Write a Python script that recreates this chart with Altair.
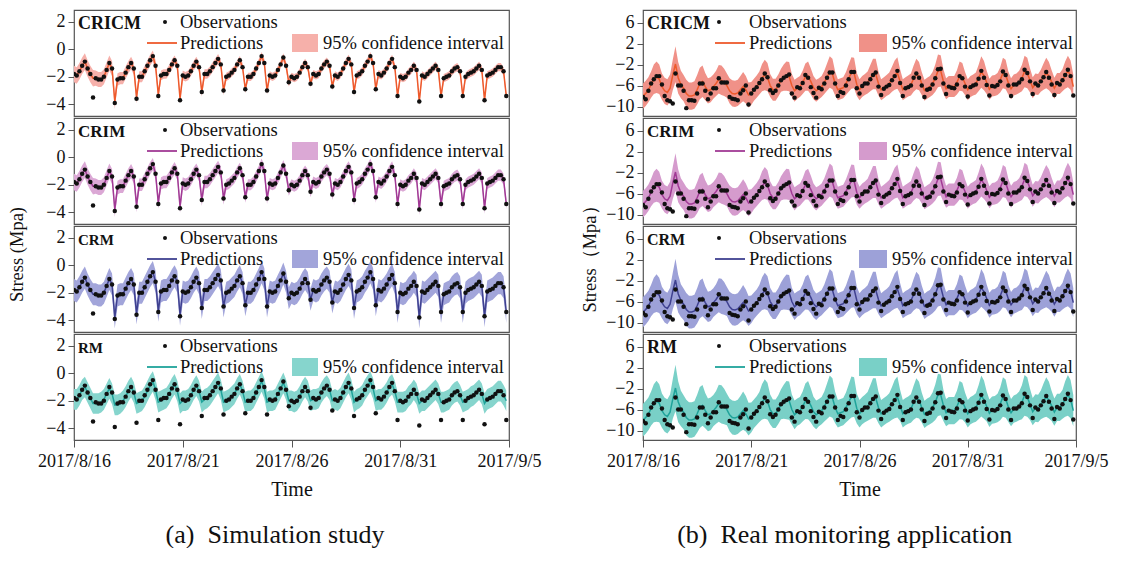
import altair as alt
import pandas as pd

FONT = "Liberation Serif"
PER_DAY = 8
N_DAYS = 20

models = ["CRICM", "CRIM", "CRM", "RM"]
label_sizes_left = [18, 17, 15, 15]
label_sizes_right = [18, 17, 16, 18]
line_colors = ["#EE5A2C", "#A13A95", "#3F4190", "#1FA39A"]
fill_left = ["#F6B0AA", "#DBA8D5", "#A2A5DA", "#86D5CD"]
fill_right = ["#F09188", "#D59BCD", "#9DA1D8", "#79D0C7"]

x_tick_values = [0, 5, 10, 15, 20]
x_tick_labels = ["2017/8/16", "2017/8/21", "2017/8/26", "2017/8/31", "2017/9/5"]
y_ticks_left = [2, 0, -2, -4]
y_ticks_right = [6, 2, -2, -6, -10]
y_domain_left = [-4.85, 2.85]
y_domain_right = [-11.8, 8.4]

# ---- (a) simulation study, 3-hourly ----
obs_left = [
    -1.8, -1.9, -1.6, -1.2, -0.9, -1.4, -1.8, -3.5,
    -2.1, -2.2, -2.2, -2.0, -1.5, -1.0, -1.4, -3.9,
    -2.2, -2.1, -2.1, -1.7, -1.3, -1.0, -1.4, -3.6,
    -2.0, -2.0, -1.6, -1.2, -0.8, -0.5, -1.2, -3.4,
    -1.9, -1.8, -1.8, -1.5, -1.1, -0.8, -1.2, -3.7,
    -1.9, -2.0, -1.9, -1.6, -1.2, -0.9, -1.3, -3.1,
    -1.8, -1.8, -1.6, -1.3, -1.0, -0.7, -1.1, -3.0,
    -2.0, -1.9, -1.7, -1.5, -1.1, -0.8, -1.3, -2.9,
    -2.0, -2.0, -1.8, -1.4, -1.0, -0.5, -1.0, -3.0,
    -1.9, -2.0, -1.9, -1.5, -1.1, -0.6, -1.2, -2.4,
    -2.0, -2.1, -2.0, -1.7, -1.3, -1.0, -1.3, -2.5,
    -1.8, -1.9, -1.8, -1.4, -1.1, -0.9, -1.2, -2.7,
    -1.9, -2.0, -1.8, -1.4, -1.0, -0.7, -1.1, -3.1,
    -1.9, -1.8, -1.6, -1.2, -0.9, -0.5, -1.0, -2.9,
    -1.8, -1.9, -1.7, -1.4, -1.0, -0.7, -1.3, -3.4,
    -2.0, -2.1, -2.0, -1.7, -1.5, -1.2, -1.5, -3.8,
    -1.9, -2.0, -1.8, -1.6, -1.4, -1.2, -1.5, -3.4,
    -2.1, -2.0, -1.9, -1.6, -1.4, -1.3, -1.6, -3.4,
    -2.0, -1.8, -1.7, -1.6, -1.4, -1.2, -1.5, -3.7,
    -1.9, -1.8, -1.7, -1.5, -1.3, -1.3, -1.6, -3.4,
]

pred_left_fit = [
    -1.8, -1.9, -1.6, -1.2, -0.9, -1.4, -1.8, -2.1,
    -2.1, -2.2, -2.2, -2.0, -1.5, -1.0, -1.4, -3.8,
    -2.2, -2.1, -2.1, -1.7, -1.3, -1.0, -1.4, -3.5,
    -2.0, -2.0, -1.6, -1.2, -0.8, -0.5, -1.2, -3.3,
    -1.9, -1.8, -1.8, -1.5, -1.1, -0.8, -1.2, -3.6,
    -1.9, -2.0, -1.9, -1.6, -1.2, -0.9, -1.3, -3.1,
    -1.8, -1.8, -1.6, -1.3, -1.0, -0.7, -1.1, -3.0,
    -2.0, -1.9, -1.7, -1.5, -1.1, -0.8, -1.3, -2.9,
    -2.0, -2.0, -1.8, -1.4, -1.0, -0.5, -1.0, -3.0,
    -1.9, -2.0, -1.9, -1.5, -1.1, -0.6, -1.2, -2.4,
    -2.0, -2.1, -2.0, -1.7, -1.3, -1.0, -1.3, -2.5,
    -1.8, -1.9, -1.8, -1.4, -1.1, -0.9, -1.2, -2.7,
    -1.9, -2.0, -1.8, -1.4, -1.0, -0.7, -1.1, -3.1,
    -1.9, -1.8, -1.6, -1.2, -0.9, -0.5, -1.0, -2.9,
    -1.8, -1.9, -1.7, -1.4, -1.0, -0.7, -1.3, -3.4,
    -2.0, -2.1, -2.0, -1.7, -1.5, -1.2, -1.5, -3.8,
    -1.9, -2.0, -1.8, -1.6, -1.4, -1.2, -1.5, -3.4,
    -2.1, -2.0, -1.9, -1.6, -1.4, -1.3, -1.6, -3.4,
    -2.0, -1.8, -1.7, -1.6, -1.4, -1.2, -1.5, -3.7,
    -1.9, -1.8, -1.7, -1.5, -1.3, -1.3, -1.6, -3.4,
]

pred_left_rm = [
    -1.9, -1.9, -1.6, -1.2, -1.0, -1.4, -1.8, -2.2,
    -2.2, -2.2, -2.1, -1.9, -1.5, -1.1, -1.5, -2.3,
    -2.3, -2.2, -2.0, -1.7, -1.3, -1.0, -1.4, -2.2,
    -2.1, -2.0, -1.7, -1.3, -0.9, -0.6, -1.2, -2.1,
    -2.0, -1.9, -1.8, -1.5, -1.1, -0.8, -1.3, -2.2,
    -2.0, -2.0, -1.9, -1.6, -1.2, -0.9, -1.3, -2.1,
    -1.9, -1.8, -1.6, -1.3, -1.0, -0.7, -1.2, -2.1,
    -2.0, -1.9, -1.7, -1.5, -1.1, -0.8, -1.3, -2.1,
    -2.0, -2.0, -1.8, -1.4, -1.0, -0.6, -1.1, -2.1,
    -2.0, -2.0, -1.9, -1.5, -1.1, -0.7, -1.2, -2.0,
    -2.0, -2.1, -2.0, -1.7, -1.3, -1.0, -1.3, -2.0,
    -1.9, -1.9, -1.8, -1.4, -1.1, -0.9, -1.2, -2.0,
    -1.9, -2.0, -1.8, -1.4, -1.0, -0.7, -1.2, -2.1,
    -1.9, -1.8, -1.6, -1.2, -0.9, -0.6, -1.1, -2.0,
    -1.9, -1.9, -1.7, -1.4, -1.0, -0.8, -1.3, -2.1,
    -2.1, -2.1, -2.0, -1.7, -1.5, -1.2, -1.5, -2.2,
    -2.0, -2.0, -1.8, -1.6, -1.4, -1.2, -1.5, -2.1,
    -2.1, -2.0, -1.9, -1.6, -1.4, -1.3, -1.6, -2.1,
    -2.0, -1.9, -1.7, -1.6, -1.4, -1.2, -1.5, -2.2,
    -1.9, -1.8, -1.7, -1.5, -1.3, -1.3, -1.6, -2.0,
]

# daily half-width of the 95% band, per model
hw_left_cricm = [0.6, 0.55, 0.45, 0.4, 0.35, 0.35, 0.35, 0.3, 0.3, 0.3,
                 0.3, 0.3, 0.3, 0.3, 0.3, 0.3, 0.3, 0.3, 0.3, 0.3]
hw_left_crim = [0.6, 0.55, 0.5, 0.45, 0.45, 0.45, 0.45, 0.4, 0.4, 0.4,
                0.4, 0.4, 0.4, 0.4, 0.4, 0.4, 0.4, 0.4, 0.4, 0.4]
hw_left_crm = [0.8, 0.8, 0.8, 0.8, 0.8, 0.8, 0.8, 0.8, 0.8, 0.8,
               0.8, 0.8, 0.8, 0.8, 0.8, 0.8, 0.8, 0.8, 0.8, 0.8]
hw_left_rm = [0.75, 0.75, 0.75, 0.75, 0.75, 0.75, 0.75, 0.75, 0.75, 0.75,
              0.75, 0.75, 0.75, 0.75, 0.75, 0.75, 0.75, 0.75, 0.75, 0.75]

# ---- (b) real monitoring application, 3-hourly ----
obs_right = [
    -8.2, -8.6, -7.0, -5.6, -4.8, -4.2, -4.2, -5.8,
    -8.0, -8.8, -9.0, -9.4, -3.7, -6.0, -6.0, -7.0,
    -10.3, -8.8, -8.8, -8.9, -7.5, -5.6, -5.6, -7.0,
    -8.6, -7.5, -6.5, -6.5, -4.6, -5.4, -5.4, -5.4,
    -8.2, -8.5, -8.6, -8.8, -7.5, -6.9, -6.0, -9.6,
    -7.5, -6.8, -6.3, -5.5, -4.8, -3.7, -4.4, -6.9,
    -7.4, -7.0, -6.0, -5.0, -4.5, -4.2, -3.9, -7.5,
    -8.3, -6.3, -6.5, -5.5, -4.0, -4.5, -6.3, -7.4,
    -8.3, -6.4, -6.7, -5.6, -4.5, -3.5, -3.5, -5.6,
    -8.0, -7.2, -7.4, -6.0, -4.8, -3.4, -3.4, -6.5,
    -7.5, -6.1, -5.6, -5.6, -4.8, -4.0, -3.5, -6.2,
    -7.8, -6.6, -6.2, -5.9, -5.0, -4.2, -3.2, -5.5,
    -8.0, -6.5, -6.3, -6.0, -4.5, -3.7, -4.5, -6.0,
    -8.2, -6.8, -6.6, -5.8, -4.6, -2.9, -2.8, -5.6,
    -7.6, -6.2, -6.4, -6.5, -5.8, -4.2, -4.6, -6.2,
    -8.1, -6.3, -6.0, -5.8, -4.7, -3.2, -4.5, -5.9,
    -7.9, -6.1, -6.2, -5.9, -5.2, -3.3, -4.0, -6.0,
    -8.0, -5.8, -5.8, -5.4, -4.8, -3.0, -3.6, -5.2,
    -7.6, -5.6, -6.0, -5.2, -4.4, -3.4, -4.5, -5.8,
    -7.8, -5.5, -5.8, -5.0, -4.0, -3.0, -4.2, -7.9,
]

pred_right = [
    -8.0, -7.5, -6.8, -5.8, -4.8, -4.4, -4.8, -6.2,
    -7.0, -7.3, -6.5, -4.0, -1.9, -4.5, -5.8, -6.5,
    -7.5, -8.0, -8.0, -7.8, -6.8, -5.6, -5.2, -6.2,
    -7.0, -6.8, -6.2, -5.6, -4.8, -5.0, -5.4, -6.0,
    -7.0, -7.5, -7.6, -7.4, -6.8, -6.2, -6.8, -7.8,
    -7.5, -6.8, -6.2, -5.5, -4.5, -4.0, -4.4, -6.0,
    -6.8, -6.8, -6.0, -5.0, -4.5, -4.2, -4.3, -6.0,
    -7.0, -6.5, -6.2, -5.4, -4.4, -4.2, -5.2, -6.4,
    -7.0, -6.6, -6.2, -5.4, -4.4, -3.4, -3.8, -5.6,
    -6.8, -6.6, -6.4, -5.6, -4.6, -3.6, -3.6, -5.8,
    -6.8, -6.2, -5.8, -5.4, -4.6, -3.8, -3.8, -5.6,
    -6.8, -6.4, -6.0, -5.6, -4.8, -4.0, -3.6, -5.2,
    -6.8, -6.4, -6.1, -5.8, -4.7, -3.8, -4.2, -5.6,
    -6.9, -6.5, -6.2, -5.6, -4.6, -3.2, -3.2, -5.2,
    -6.6, -6.2, -6.2, -6.2, -5.4, -4.2, -4.4, -5.6,
    -6.8, -6.2, -5.9, -5.6, -4.6, -3.4, -4.1, -5.4,
    -6.7, -6.1, -6.0, -5.7, -4.9, -3.6, -3.9, -5.5,
    -6.6, -5.9, -5.7, -5.3, -4.6, -3.3, -3.6, -5.0,
    -6.4, -5.7, -5.8, -5.1, -4.3, -3.6, -4.2, -5.3,
    -6.5, -5.6, -5.6, -5.0, -4.0, -3.3, -4.0, -6.2,
]

hw_right = [
    2.4, 2.4, 2.4, 2.5, 2.8, 3.0, 2.8, 2.5,
    2.5, 2.5, 2.6, 2.9, 3.4, 3.0, 2.6, 2.5,
    2.6, 2.6, 2.6, 2.6, 2.8, 3.0, 3.0, 2.6,
    2.4, 2.4, 2.3, 2.4, 2.7, 2.8, 2.6, 2.3,
    2.4, 2.5, 2.5, 2.5, 2.6, 2.8, 2.6, 2.4,
    2.2, 2.1, 2.1, 2.2, 2.6, 2.9, 2.7, 2.2,
    2.1, 2.1, 2.1, 2.2, 2.5, 2.8, 2.8, 2.2,
    2.1, 2.0, 2.0, 2.2, 2.6, 2.8, 2.5, 2.2,
    2.1, 2.0, 2.0, 2.2, 2.6, 3.0, 2.9, 2.3,
    2.0, 2.0, 2.0, 2.2, 2.6, 3.0, 2.9, 2.2,
    2.0, 2.0, 2.0, 2.1, 2.5, 2.9, 2.9, 2.3,
    2.0, 2.0, 2.0, 2.1, 2.4, 2.8, 3.0, 2.3,
    2.0, 2.0, 2.0, 2.1, 2.5, 2.9, 2.7, 2.2,
    2.0, 2.0, 2.0, 2.2, 2.6, 3.1, 3.0, 2.3,
    2.0, 2.0, 2.0, 2.0, 2.3, 2.8, 2.7, 2.2,
    2.0, 2.0, 2.0, 2.1, 2.5, 3.0, 2.8, 2.2,
    2.0, 2.0, 2.0, 2.1, 2.4, 2.9, 2.8, 2.2,
    2.0, 2.0, 2.0, 2.1, 2.5, 3.0, 2.9, 2.3,
    2.0, 2.0, 2.0, 2.1, 2.5, 2.9, 2.7, 2.2,
    2.0, 2.0, 2.0, 2.1, 2.6, 3.0, 2.8, 2.3,
]
hw_right_factor = [1.0, 1.05, 1.2, 1.3]

# ---------------------------------------------------------------
t_days = [i / PER_DAY for i in range(N_DAYS * PER_DAY)]
W_LEFT, W_RIGHT, H = 435, 433, 106
LEG_FS = 18.5
one = pd.DataFrame({"k": [0]})
label_expr = "[" + ",".join("'%s'" % s for s in x_tick_labels) + "][round(datum.value / 5)]"


def panel(k, obs, pred, half, ydom, yticks, fill, width, show_x, leg, name_size):
    df = pd.DataFrame({
        "t": t_days,
        "obs": obs,
        "pred": pred,
        "lo": [round(p - h, 3) for p, h in zip(pred, half)],
        "hi": [round(p + h, 3) for p, h in zip(pred, half)],
    })
    if show_x:
        xaxis = alt.Axis(values=x_tick_values, labelExpr=label_expr, title="Time",
                         titleFontWeight="normal", labelFlush=False, labelOverlap=False,
                         domain=False, ticks=True, tickSize=7, labelPadding=5,
                         titlePadding=9)
    else:
        xaxis = None
    x = alt.X("t:Q", scale=alt.Scale(domain=[0, 20], nice=False, zero=False), axis=xaxis)
    yax = alt.Axis(values=yticks, title=None, domain=False, tickSize=6, labelPadding=3)
    ysc = alt.Scale(domain=ydom, nice=False, zero=False)
    base = alt.Chart(df)
    area = base.mark_area(color=fill, opacity=1, clip=True).encode(
        x=x, y=alt.Y("lo:Q", scale=ysc, axis=yax), y2="hi:Q")
    line = base.mark_line(color=line_colors[k], strokeWidth=1.5, clip=True).encode(
        x=x, y=alt.Y("pred:Q", scale=ysc, axis=yax))
    pts = base.mark_circle(size=20, color="#111", opacity=1, clip=True).encode(
        x=x, y=alt.Y("obs:Q", scale=ysc, axis=yax))

    lc = alt.Chart(one)
    name = lc.mark_text(align="left", baseline="middle", font=FONT, fontWeight="bold",
                        fontSize=name_size, color="#111").encode(
        x=alt.value(4), y=alt.value(14), text=alt.value(models[k]))
    dot = lc.mark_circle(size=16, color="#111", opacity=1).encode(
        x=alt.value(leg[0]), y=alt.value(12))
    t_obs = lc.mark_text(align="left", baseline="middle", font=FONT, fontSize=LEG_FS,
                         color="#111").encode(x=alt.value(leg[1]), y=alt.value(12),
                                              text=alt.value("Observations"))
    rule = lc.mark_rule(color=line_colors[k], strokeWidth=1.8).encode(
        x=alt.value(leg[2]), x2=alt.value(leg[3]), y=alt.value(33))
    t_pred = lc.mark_text(align="left", baseline="middle", font=FONT, fontSize=LEG_FS,
                          color="#111").encode(x=alt.value(leg[1]), y=alt.value(33),
                                               text=alt.value("Predictions"))
    sq = lc.mark_rect(color=fill, opacity=1).encode(
        x=alt.value(leg[4]), x2=alt.value(leg[5]), y=alt.value(24), y2=alt.value(42))
    t_ci = lc.mark_text(align="left", baseline="middle", font=FONT, fontSize=LEG_FS,
                        color="#111").encode(x=alt.value(leg[6]), y=alt.value(33),
                                             text=alt.value("95% confidence interval"))
    return alt.layer(area, line, pts, name, dot, t_obs, rule, t_pred, sq, t_ci).properties(
        width=width, height=H)


def expand(daily):
    return [daily[int(t)] for t in t_days]


left_hw = [expand(hw_left_cricm), expand(hw_left_crim), expand(hw_left_crm), expand(hw_left_rm)]
left_pred = [pred_left_fit, pred_left_fit, pred_left_fit, pred_left_rm]
leg_left = [91, 106, 73, 103, 218, 244, 249]
leg_right = [76, 106, 72, 102, 216, 244, 249]

left_panels = [
    panel(k, obs_left, left_pred[k], left_hw[k], y_domain_left, y_ticks_left,
          fill_left[k], W_LEFT, k == 3, leg_left, label_sizes_left[k])
    for k in range(4)
]
right_panels = [
    panel(k, obs_right, pred_right, [h * hw_right_factor[k] for h in hw_right],
          y_domain_right, y_ticks_right, fill_right[k], W_RIGHT, k == 3, leg_right,
          label_sizes_right[k])
    for k in range(4)
]


def column(panels, ytitle, caption, offset):
    stack = alt.vconcat(*panels, spacing=0, title=alt.TitleParams(
        ytitle, orient="left", anchor="middle", font=FONT, fontSize=18.5,
        fontWeight="normal", color="#111", offset=offset))
    return alt.vconcat(stack, title=alt.TitleParams(
        caption, orient="bottom", anchor="middle", font=FONT, fontSize=26,
        fontWeight="normal", color="#111", offset=22))


left = column(left_panels, "Stress (Mpa)", "(a)\u00a0\u00a0Simulation study", 10)
right = column(right_panels, "Stress\uff08Mpa\uff09",
               "(b)\u00a0\u00a0Real monitoring application", 6)

chart = alt.hconcat(left, right, spacing=38).properties(
    padding={"left": 0, "top": 1, "right": 2, "bottom": 0}
).configure_axis(
    labelFont=FONT, titleFont=FONT, labelFontSize=18, titleFontSize=20,
    labelColor="#111", titleColor="#111", tickColor="#555", grid=False
).configure_view(stroke="#555", strokeWidth=1.2)

chart.save("out.html", embed_options={"renderer": "svg", "actions": False})
